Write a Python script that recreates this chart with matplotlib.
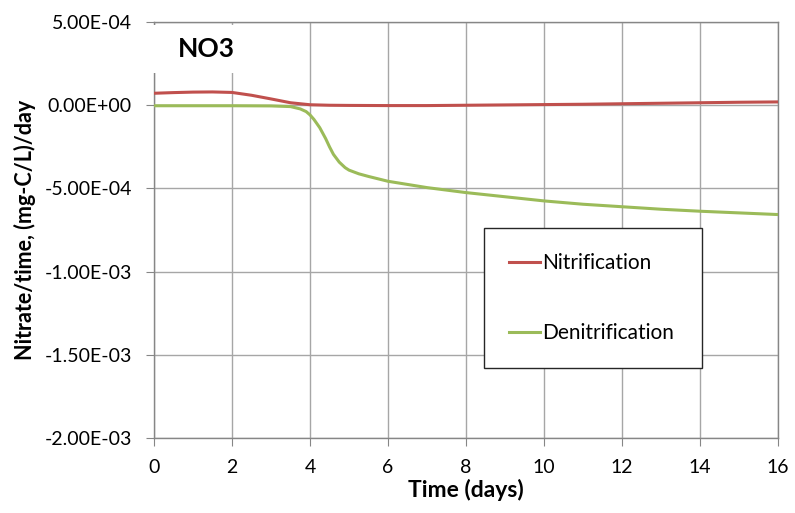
import numpy as np
import matplotlib
matplotlib.use('Agg')
import matplotlib.pyplot as plt
from matplotlib.patches import Rectangle
from matplotlib.ticker import FuncFormatter, MultipleLocator

plt.rcParams['font.family'] = ['Lato', 'DejaVu Sans']

# Werte
time_nit = [0, 0.5, 1, 1.5, 2, 2.5, 3, 3.5, 4, 4.5, 5, 6, 7, 8, 9, 10, 11, 12, 13, 14, 15, 16]
nitrification = [7.2e-5, 7.6e-5, 7.9e-5, 8.0e-5, 7.7e-5, 6.0e-5, 3.8e-5, 1.5e-5, 3e-6, 0.0, -1e-6,
                 -2e-6, -2e-6, 0.0, 2e-6, 4e-6, 6e-6, 9e-6, 1.2e-5, 1.5e-5, 1.8e-5, 2.0e-5]

time_den = [0, 1, 2, 3, 3.5, 3.75, 3.9, 4, 4.1, 4.25, 4.4, 4.5, 4.6, 4.75, 4.9, 5, 5.25, 5.5,
            6, 7, 8, 9, 10, 11, 12, 13, 14, 15, 16]
denitrification = [-3e-6, -3e-6, -3e-6, -4e-6, -8e-6, -2.2e-5, -3.8e-5, -5.8e-5, -8.5e-5, -1.35e-4,
                   -2.0e-4, -2.5e-4, -2.95e-4, -3.42e-4, -3.75e-4, -3.9e-4, -4.12e-4, -4.28e-4,
                   -4.57e-4, -4.95e-4, -5.25e-4, -5.5e-4, -5.75e-4, -5.95e-4,
                   -6.1e-4, -6.25e-4, -6.37e-4, -6.47e-4, -6.57e-4]

fig = plt.figure(figsize=(7.95, 5.13), dpi=100)
ax = fig.add_axes([0.1937, 0.1462, 0.785, 0.8108])

ax.plot(time_nit, nitrification, color='#C0504D', lw=2.2, label='Nitrification', zorder=3)
ax.plot(time_den, denitrification, color='#9BBB59', lw=2.2, label='Denitrification', zorder=3)

ax.set_xlim(0, 16)
ax.set_ylim(-2e-3, 5e-4)
ax.xaxis.set_major_locator(MultipleLocator(2))
ax.yaxis.set_major_locator(MultipleLocator(5e-4))
ax.yaxis.set_major_formatter(FuncFormatter(lambda v, p: f'{v:.2E}'))
ax.grid(True, color='#A6A6A6', lw=1)
ax.set_axisbelow(True)
for s in ax.spines.values():
    s.set_color('#868686')
    s.set_linewidth(1)
ax.tick_params(direction='out', length=6, color='#868686', labelsize=14)
ax.tick_params(axis='y', pad=10)
ax.tick_params(axis='x', pad=9)

ax.set_xlabel('Time (days)', fontsize=16.5, fontweight='bold', labelpad=2)
ax.set_ylabel('Nitrate/time, (mg-C/L)/day', fontsize=15.5, fontweight='bold', labelpad=6)

# weisser Titelkasten (verdeckt Gitter und Achse wie im Original)
ax.add_patch(Rectangle((-0.006, 0.877), 0.146, 0.116, transform=ax.transAxes,
                       fc='white', ec='none', zorder=4, clip_on=False))
ax.text(0.084, 0.935, 'NO3', transform=ax.transAxes, ha='center', va='center',
        fontsize=19, fontweight='bold', zorder=5)

leg = ax.legend(loc='upper left', bbox_to_anchor=(0.529, 0.168, 0.349, 0.337), mode='expand',
                fancybox=False, edgecolor='#262626', fontsize=15, handlelength=1.5,
                handletextpad=0.1, labelspacing=2.4, borderpad=1.2, borderaxespad=0)
leg.get_frame().set_linewidth(1)
leg.get_frame().set_alpha(1)

fig.savefig('out.png', dpi=100)
